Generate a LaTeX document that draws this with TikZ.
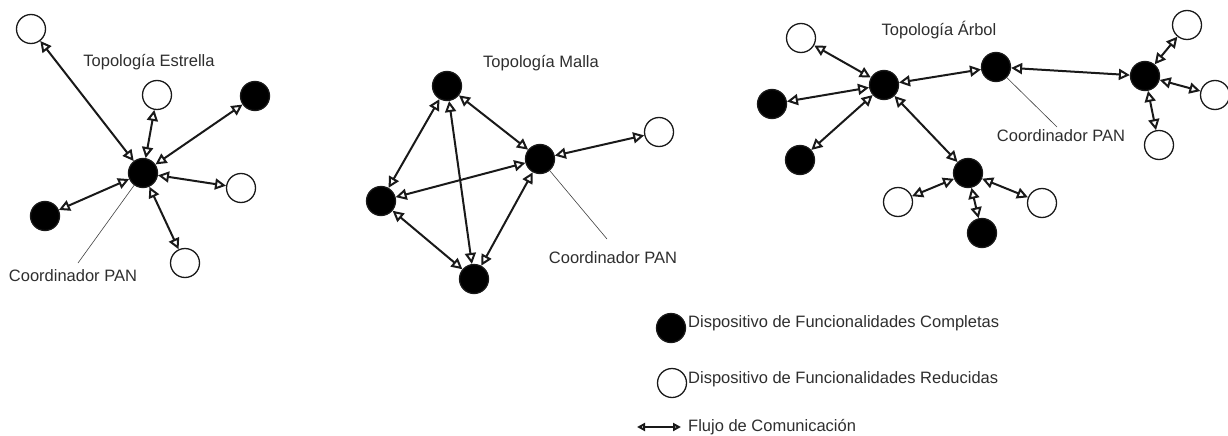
\documentclass[tikz,border=0pt]{standalone}
\usepackage{fontspec}
\setmainfont{Liberation Sans}
\usetikzlibrary{arrows.meta}
\definecolor{inkcol}{rgb}{0.1,0.1,0.1}
\definecolor{txtcol}{rgb}{0.18,0.18,0.18}
\begin{document}
\begin{tikzpicture}[x=1pt,y=-1pt,
  dev/.style={circle,minimum size=29pt,inner sep=0pt,line width=1.3pt,draw=inkcol},
  ffd/.style={dev,fill=black},
  rfd/.style={dev,fill=white},
  link/.style={line width=2pt,draw=inkcol,
    {Triangle[open,length=11pt,width=11pt,fill=white]}-{Triangle[open,length=11pt,width=11pt,fill=white]}},
  leader/.style={line width=0.6pt,draw=black!75},
  lbl/.style={inner sep=0pt,text=txtcol,font=\fontsize{16.5}{19}\selectfont}]
\useasboundingbox (0,0) rectangle (1228,436);

% ---------- star topology ----------
\node[ffd] (s0) at (143,173) {};
\node[rfd] (s1) at (31,29) {};
\node[rfd] (s2) at (157,95) {};
\node[ffd] (s3) at (255,96) {};
\node[rfd] (s4) at (241,188) {};
\node[ffd] (s5) at (45,216) {};
\node[rfd] (s6) at (185,263) {};
\foreach \n in {s1,s2,s3,s4,s5,s6} \draw[link] (s0) -- (\n);
\node[lbl] (stitle) at (149,62) {Topología Estrella};
\node[lbl] (scoord) at (73,276) {Coordinador PAN};
\coordinate (sL) at (78,263);
\draw[leader] (s0) -- (sL);

% ---------- mesh topology ----------
\node[ffd] (m1) at (447,86) {};
\node[ffd] (m2) at (540,159) {};
\node[rfd] (m3) at (659,132) {};
\node[ffd] (m4) at (381,201) {};
\node[ffd] (m5) at (474,279) {};
\draw[link] (m1) -- (m2);
\draw[link] (m1) -- (m4);
\draw[link] (m1) -- (m5);
\draw[link] (m4) -- (m2);
\draw[link] (m4) -- (m5);
\draw[link] (m5) -- (m2);
\draw[link] (m2) -- (m3);
\node[lbl] (mtitle) at (541,63) {Topología Malla};
\node[lbl] (mcoord) at (613,258) {Coordinador PAN};
\coordinate (mL) at (607,239);
\draw[leader] (m2) -- (mL);

% ---------- tree topology ----------
\node[ffd] (t1) at (884,85) {};
\node[rfd] (t2) at (801,38) {};
\node[ffd] (t3) at (772,104) {};
\node[ffd] (t4) at (800,160) {};
\node[ffd] (t5) at (996,67) {};
\node[ffd] (t6) at (1145,76) {};
\node[rfd] (t7) at (1187,25) {};
\node[rfd] (t8) at (1215,95) {};
\node[rfd] (t9) at (1159,145) {};
\node[ffd] (t10) at (968,173) {};
\node[rfd] (t11) at (898,202) {};
\node[rfd] (t12) at (1042,203) {};
\node[ffd] (t13) at (982,233) {};
\foreach \n in {t2,t3,t4,t5,t10} \draw[link] (t1) -- (\n);
\foreach \n in {t7,t8,t9} \draw[link] (t6) -- (\n);
\draw[link] (t5) -- (t6);
\foreach \n in {t11,t12,t13} \draw[link] (t10) -- (\n);
\node[lbl] (ttitle) at (939,30) {Topología Árbol};
\node[lbl] (tcoord) at (1061,136) {Coordinador PAN};
\coordinate (tL) at (1057,127);
\draw[leader] (t5) -- (tL);

% ---------- legend ----------
\node[ffd] (lb) at (671,328) {};
\node[rfd] (lw) at (672,383) {};
\node[lbl,anchor=west] (lbt) at (688,323) {Dispositivo de Funcionalidades Completas};
\node[lbl,anchor=west] (lwt) at (688,379) {Dispositivo de Funcionalidades Reducidas};
\coordinate (la) at (637,427);
\coordinate (lz) at (681,427);
\draw[line width=2pt,draw=inkcol,
  {Triangle[open,length=8pt,width=8pt,fill=white]}-{Triangle[open,length=8pt,width=8pt,fill=white]}] (la) -- (lz);
\node[lbl,anchor=west] (lat) at (688,427) {Flujo de Comunicación};
\end{tikzpicture}
\end{document}
